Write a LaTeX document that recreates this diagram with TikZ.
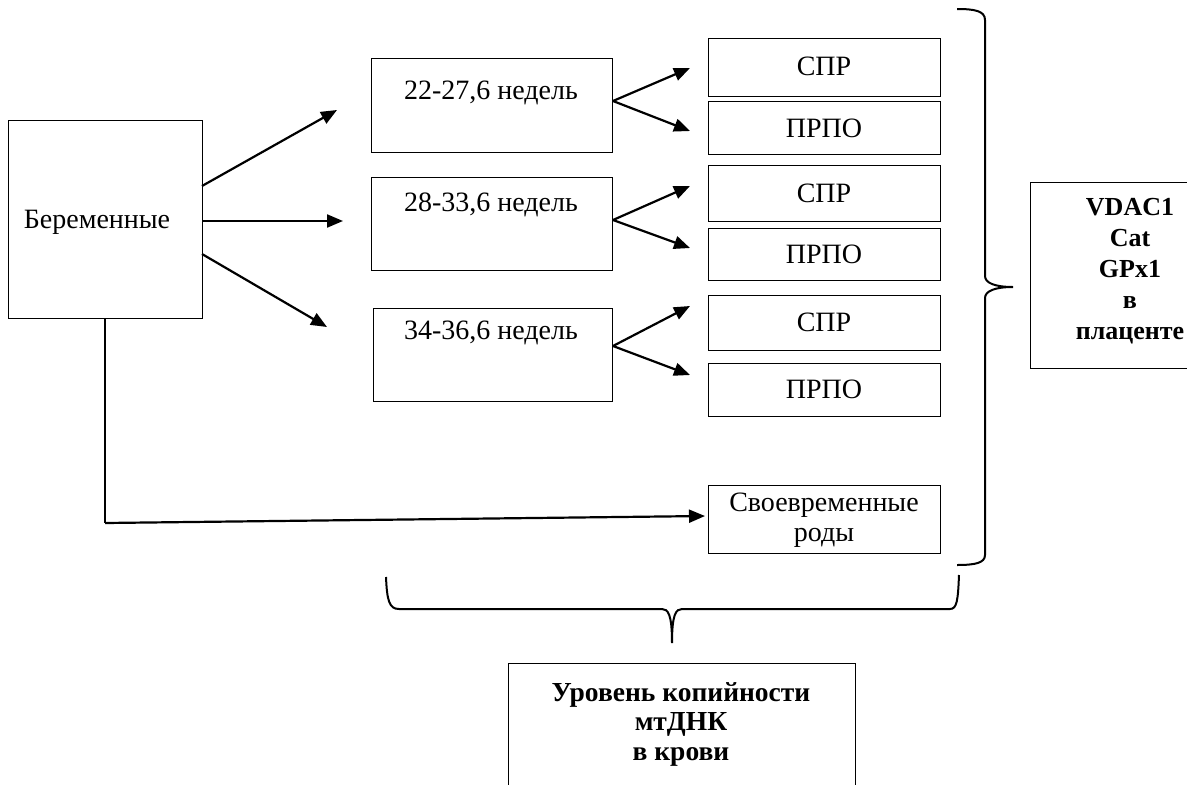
\documentclass[tikz,border=0pt]{standalone}
\usepackage{fontspec}
\setmainfont{Liberation Serif}
\usetikzlibrary{arrows.meta}
\begin{document}
\begin{tikzpicture}[x=1pt,y=-1pt,
  box/.style={draw,line width=1.4pt,inner sep=0pt,anchor=north west},
  txt/.style={font=\fontsize{28}{30}\selectfont,inner sep=0pt,align=center},
  btxt/.style={font=\fontsize{27.5}{30.5}\selectfont\bfseries,inner sep=0pt,align=center},
  arr/.style={line width=2.2pt,-{Triangle[length=16pt,width=13pt]}},
  brace/.style={line width=2pt}]
\useasboundingbox (0,0) rectangle (1187,785);
\clip (0,0) rectangle (1187,785);
% main box
\node[box,minimum width=194pt,minimum height=198pt] (ber) at (8,120) {};
\node[txt] (bertxt) at (97,222) {Беременные};
% week boxes
\node[box,minimum width=241pt,minimum height=94pt] (w1) at (371,58) {};
\node[txt] (w1t) at (491,93) {22-27,6 недель};
\node[box,minimum width=241pt,minimum height=93pt] (w2) at (371,177) {};
\node[txt] (w2t) at (491,205) {28-33,6 недель};
\node[box,minimum width=239pt,minimum height=93pt] (w3) at (373,308) {};
\node[txt] (w3t) at (491,333) {34-36,6 недель};
% right boxes
\node[box,minimum width=232pt,minimum height=58pt] (s1) at (708,38) {};
\node[txt] (s1t) at (824,66) {СПР};
\node[box,minimum width=232pt,minimum height=53pt] (p1) at (708,101) {};
\node[txt] (p1t) at (824,128) {ПРПО};
\node[box,minimum width=232pt,minimum height=56pt] (s2) at (708,165) {};
\node[txt] (s2t) at (824,193) {СПР};
\node[box,minimum width=232pt,minimum height=52pt] (p2) at (708,228) {};
\node[txt] (p2t) at (824,254) {ПРПО};
\node[box,minimum width=232pt,minimum height=55pt] (s3) at (708,295) {};
\node[txt] (s3t) at (824,322) {СПР};
\node[box,minimum width=232pt,minimum height=53pt] (p3) at (708,363) {};
\node[txt] (p3t) at (824,389) {ПРПО};
\node[box,minimum width=232pt,minimum height=68pt] (sv) at (708,485) {};
\node[txt] (svt) at (824,520) {Своевременные\\роды};
% result boxes
\node[box,line width=1.2pt,minimum width=202pt,minimum height=186pt] (vd) at (1030,182) {};
\node[btxt,font=\fontsize{26}{31}\selectfont\bfseries] (vdt) at (1130,271) {VDAC1\\Cat\\GPx1\\в\\плаценте};
\node[box,line width=1.2pt,minimum width=347pt,minimum height=160pt] (ur) at (508,663) {};
\node[btxt,font=\fontsize{27.5}{29.5}\selectfont\bfseries] (urt) at (681,724) {Уровень копийности\\мтДНК\\в крови};
% arrows from main box
\coordinate (b1) at (202,186); \coordinate (e1) at (337,110);
\coordinate (b2) at (202,221); \coordinate (e2) at (343,221);
\coordinate (b3) at (202,254); \coordinate (e3) at (327,327);
\draw[arr] (b1) -- (e1);
\draw[arr] (b2) -- (e2);
\draw[arr] (b3) -- (e3);
% forks
\coordinate (f1a) at (690,68); \coordinate (f1b) at (690,131);
\coordinate (f2a) at (690,186); \coordinate (f2b) at (690,248);
\coordinate (f3a) at (690,306); \coordinate (f3b) at (690,375);
\coordinate (o1) at (613,101); \coordinate (o2) at (613,220); \coordinate (o3) at (613,346);
\draw[arr] (o1) -- (f1a); \draw[arr] (o1) -- (f1b);
\draw[arr] (o2) -- (f2a); \draw[arr] (o2) -- (f2b);
\draw[arr] (o3) -- (f3a); \draw[arr] (o3) -- (f3b);
% long connector
\coordinate (lb) at (105,318); \coordinate (lc) at (105,523); \coordinate (le) at (705,516);
\draw[line width=2pt] (lb) -- (lc);
\draw[arr] (lc) -- (le);
% right brace
\coordinate (rbt) at (1013,287);
\draw[brace] (957,9) .. controls (975,9) and (985,11) .. (985,20) -- (985,276)
  .. controls (985,283) and (995,287) .. (rbt)
  .. controls (995,287) and (985,291) .. (985,298) -- (985,555)
  .. controls (985,563) and (975,565) .. (957,565);
% bottom brace
\coordinate (bbt) at (672,643);
\draw[brace] (386,577) .. controls (387,600) and (389,609) .. (399,609) -- (662,609)
  .. controls (668,609) and (672,614) .. (bbt)
  .. controls (672,614) and (676,609) .. (682,609) -- (950,609)
  .. controls (957,609) and (958,600) .. (959,575);
\end{tikzpicture}
\end{document}
